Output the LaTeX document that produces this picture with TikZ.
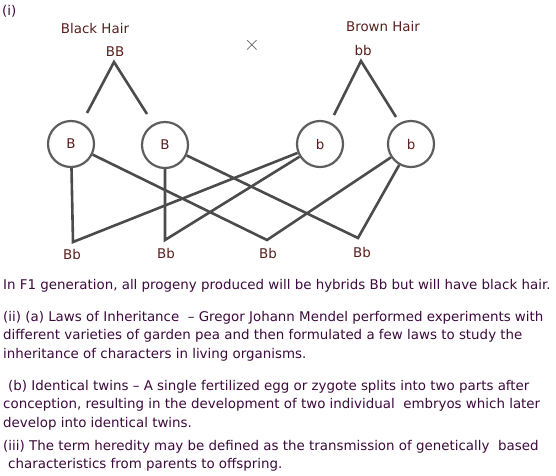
\documentclass[tikz,border=0pt]{standalone}
\usepackage{fontspec}
\setmainfont{DejaVu Sans}
\definecolor{inkpurple}{RGB}{60,10,60}
\definecolor{labelbrown}{RGB}{90,30,30}
\definecolor{linegray}{RGB}{75,75,75}
\begin{document}
\begin{tikzpicture}[x=1pt,y=-1pt,font=\fontsize{13.4pt}{16pt}\selectfont,
  gamete/.style={circle,draw=linegray!90,line width=2.2pt,minimum size=46pt,inner sep=0pt,text=labelbrown},
  link/.style={draw=linegray,line width=2.6pt},
  lbl/.style={text=labelbrown,inner sep=0pt},
  para/.style={anchor=west,inner sep=0pt,text=inkpurple}]
  \useasboundingbox (0,0) rectangle (556,475);
  \node[para] (num) at (2,11) {(i)};
  % parents
  \node[lbl] (black) at (95,28) {Black Hair};
  \node[lbl] (brown) at (383,26) {Brown Hair};
  \node[lbl] (BB) at (115,52) {BB};
  \node[lbl] (bb) at (363,50) {bb};
  \node[text=linegray!90,inner sep=0pt,font=\fontsize{22pt}{22pt}\selectfont] (cross) at (252,45) {$\times$};
  % gametes
  \node[gamete] (B1) at (71,144) {B};
  \node[gamete] (B2) at (165,145) {B};
  \node[gamete] (b1) at (320,144) {b};
  \node[gamete] (b2) at (411,144) {b};
  \coordinate (BBtop) at (114,62);
  \coordinate (BBl) at (87,113);
  \coordinate (BBr) at (147,114);
  \coordinate (bbtop) at (361,61);
  \coordinate (bbl) at (334,115);
  \coordinate (bbr) at (396,117);
  \draw[link] (BBl) -- (BBtop) -- (BBr);
  \draw[link] (bbl) -- (bbtop) -- (bbr);
  % F1
  \coordinate (Bb1c) at (73,242);
  \coordinate (Bb2c) at (165,240);
  \coordinate (Bb3c) at (267,240);
  \coordinate (Bb4c) at (358,238);
  \node[lbl] (Bb1) at (72,254) {Bb};
  \node[lbl] (Bb2) at (166,253) {Bb};
  \node[lbl] (Bb3) at (268,253) {Bb};
  \node[lbl] (Bb4) at (362,252) {Bb};
  \draw[link] (B1) -- (Bb1c) -- (b1);
  \draw[link] (B2) -- (Bb2c) -- (b1);
  \draw[link] (B1) -- (Bb3c) -- (b2);
  \draw[link] (B2) -- (Bb4c) -- (b2);
  % text
  \node[para] (t1) at (3,286) {In F1 generation, all progeny produced will be hybrids Bb but will have black hair.};
  \node[para] (t2) at (3,318) {(ii) (a) Laws of Inheritance \ -- Gregor Johann Mendel performed experiments with};
  \node[para] (t3) at (3,336) {different varieties of garden pea and then formulated a few laws to study the};
  \node[para] (t4) at (3,355) {inheritance of characters in living organisms.};
  \node[para] (t5) at (8,387) {(b) Identical twins -- A single fertilized egg or zygote splits into two parts after};
  \node[para] (t6) at (3,405) {conception, resulting in the development of two individual \ embryos which later};
  \node[para] (t7) at (3,424) {develop into identical twins.};
  \node[para] (t8) at (3,447) {(iii) The term heredity may be defined as the transmission of genetically \ based};
  \node[para] (t9) at (8,465) {characteristics from parents to offspring.};
\end{tikzpicture}
\end{document}
